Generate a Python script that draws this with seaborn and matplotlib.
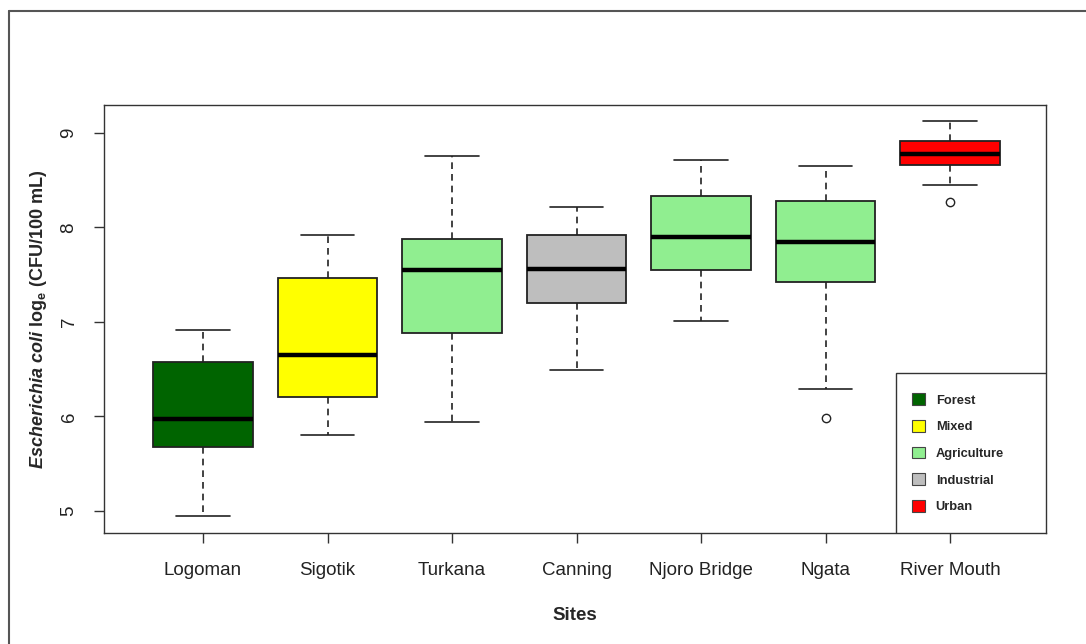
import numpy as np
import matplotlib
matplotlib.use("Agg")
import matplotlib.pyplot as plt
import seaborn as sns
from matplotlib.patches import Patch, Rectangle
from matplotlib.lines import Line2D

sns.set_style("white")
plt.rcParams['font.family'] = ['Liberation Sans', 'DejaVu Sans']
plt.rcParams['mathtext.fontset'] = 'custom'
plt.rcParams['mathtext.rm'] = 'Liberation Sans:bold'
plt.rcParams['mathtext.it'] = 'Liberation Sans:italic:bold'
plt.rcParams['mathtext.bf'] = 'Liberation Sans:bold'

# box statistics (log_e CFU/100 mL)
sites = ["Logoman", "Sigotik", "Turkana", "Canning", "Njoro Bridge", "Ngata", "River Mouth"]
land_use = ["Forest", "Mixed", "Agriculture", "Industrial", "Agriculture", "Agriculture", "Urban"]
whisker_lo = [4.95, 5.80, 5.94, 6.49, 7.01, 6.29, 8.45]
q1 = [5.68, 6.21, 6.88, 7.20, 7.55, 7.42, 8.66]
median = [5.97, 6.65, 7.55, 7.56, 7.90, 7.85, 8.78]
q3 = [6.58, 7.47, 7.88, 7.92, 8.33, 8.28, 8.92]
whisker_hi = [6.91, 7.92, 8.76, 8.22, 8.71, 8.65, 9.13]
outliers = [[], [], [], [], [], [5.98], [8.27]]

legend_labels = ["Forest", "Mixed", "Agriculture", "Industrial", "Urban"]
legend_colors = ["#006400", "#FFFF00", "#90EE90", "#BEBEBE", "#FF0000"]
color_of = dict(zip(legend_labels, legend_colors))

stats = []
for i, s in enumerate(sites):
    stats.append({"label": s, "whislo": whisker_lo[i], "q1": q1[i], "med": median[i],
                  "q3": q3[i], "whishi": whisker_hi[i], "fliers": outliers[i]})

fig = plt.figure(figsize=(10.86, 6.44), dpi=100)
ax = fig.add_axes([104 / 1086, 1 - 533 / 644, 942 / 1086, 428 / 644])

pos = np.arange(1, len(sites) + 1)
bp = ax.bxp(stats, positions=pos, widths=0.8, patch_artist=True, showfliers=True,
            boxprops=dict(edgecolor="#222222", linewidth=1.3),
            medianprops=dict(color="black", linewidth=3.2, solid_capstyle="butt"),
            whiskerprops=dict(color="#222222", linewidth=1.2, linestyle=(0, (4, 3))),
            capprops=dict(color="#222222", linewidth=1.2),
            capwidths=0.43,
            flierprops=dict(marker="o", markersize=6, markerfacecolor="white",
                            markeredgecolor="#222222", markeredgewidth=1.0))
for patch, lu in zip(bp["boxes"], land_use):
    patch.set_facecolor(color_of[lu])

ax.set_xlim(0.205, 7.77)
ax.set_ylim(4.767, 9.296)
ax.set_yticks([5, 6, 7, 8, 9])
ax.set_xticks(pos)
ax.set_xticklabels(sites)
ax.tick_params(axis="both", direction="out", length=7, width=1, color="#333333",
               labelsize=13.5, labelcolor="#222222", left=True, bottom=True)
ax.tick_params(axis="x", pad=14)
ax.tick_params(axis="y", pad=12)
for lab in ax.get_yticklabels():
    lab.set_rotation(90)
    lab.set_va("center")
for sp in ax.spines.values():
    sp.set_visible(True)
    sp.set_color("#333333")
    sp.set_linewidth(1.0)

ax.set_xlabel("Sites", fontsize=13.5, fontweight="bold", labelpad=20)
ax.set_ylabel(r"$Escherichia\ coli$ log$_{\mathrm{e}}$ (CFU/100 mL)", fontsize=13,
              fontweight="bold", labelpad=8)

# legend box attached to the bottom-right of the plot area
ax.add_patch(Rectangle((0.8408, 0.0), 0.1592, 0.3738, transform=ax.transAxes,
                       facecolor="white", edgecolor="#333333", linewidth=1.0, zorder=4))
handles = [Patch(facecolor=c, edgecolor="#444444", linewidth=0.8) for c in legend_colors]
leg = ax.legend(handles, legend_labels, loc="upper left", bbox_to_anchor=(0.8575, 0.326),
                frameon=False, borderpad=0, borderaxespad=0, handlelength=1.0,
                handleheight=1.0, handletextpad=0.85, labelspacing=1.04,
                prop={"size": 9.3, "weight": "bold"})
leg.set_zorder(5)

# figure outline (top and left edges)
fig.add_artist(Line2D([9 / 1086, 9 / 1086], [0, 1 - 11 / 644], transform=fig.transFigure,
                      color="#555555", linewidth=1.5))
fig.add_artist(Line2D([9 / 1086, 1], [1 - 11 / 644, 1 - 11 / 644], transform=fig.transFigure,
                      color="#555555", linewidth=1.5))

fig.savefig("out.png", dpi=100)
